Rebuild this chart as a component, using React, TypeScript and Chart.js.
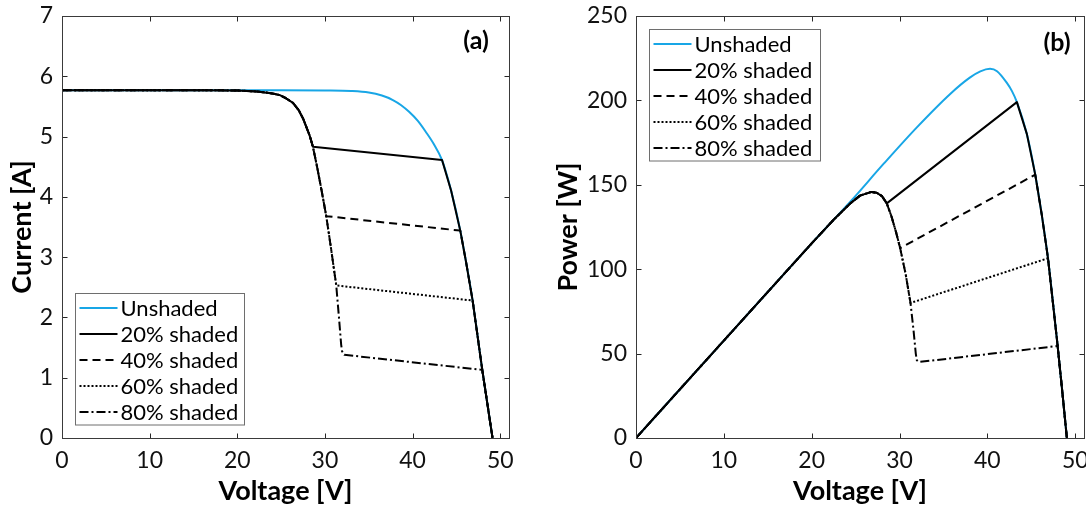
import React, { useEffect, useRef } from 'react';
import { Chart, registerables } from 'chart.js';

Chart.register(...registerables);

const FONT = 'Lato, "Open Sans", "DejaVu Sans", sans-serif';

// ---------------- tick values ----------------
const V_TICKS = [0, 10, 20, 30, 40, 50];
const I_TICKS = [0, 1, 2, 3, 4, 5, 6, 7];
const P_TICKS = [0, 50, 100, 150, 200, 250];
const SERIES_LABELS = ['Unshaded', '20% shaded', '40% shaded', '60% shaded', '80% shaded'];

// ---------------- (a) I-V curves ----------------
const IV_UNSHADED_V = [0, 5, 10, 15, 20, 25, 30, 33, 35, 36.5, 37.7, 38.7, 39.6, 40.6, 41.5, 42.4, 43.36, 44.4, 45.44, 46.1, 46.85, 47.95, 48.5, 49.12];
const IV_UNSHADED_I = [5.77, 5.77, 5.77, 5.77, 5.77, 5.77, 5.765, 5.755, 5.73, 5.68, 5.61, 5.52, 5.41, 5.26, 5.08, 4.88, 4.61, 4.1, 3.44, 2.92, 2.28, 1.13, 0.6, 0];

const IV_S20_V = [0, 5, 10, 15, 20, 22.5, 24, 24.8, 25.5, 26.35, 27, 27.5, 28.25, 28.63, 43.36, 44.4, 45.44, 46.1, 46.85, 47.95, 48.5, 49.12];
const IV_S20_I = [5.77, 5.77, 5.77, 5.77, 5.765, 5.745, 5.715, 5.69, 5.64, 5.56, 5.44, 5.3, 5.02, 4.83, 4.61, 4.1, 3.44, 2.92, 2.28, 1.13, 0.6, 0];

const IV_S40_V = [0, 5, 10, 15, 20, 22.5, 24, 24.8, 25.5, 26.35, 27, 27.5, 28.25, 28.63, 29.1, 29.6, 30.15, 45.44, 46.1, 46.85, 47.95, 48.5, 49.12];
const IV_S40_I = [5.77, 5.77, 5.77, 5.77, 5.765, 5.745, 5.715, 5.69, 5.64, 5.56, 5.44, 5.3, 5.02, 4.83, 4.5, 4.12, 3.68, 3.44, 2.92, 2.28, 1.13, 0.6, 0];

const IV_S60_V = [0, 5, 10, 15, 20, 22.5, 24, 24.8, 25.5, 26.35, 27, 27.5, 28.25, 28.63, 29.1, 29.6, 30.15, 30.7, 31.29, 46.85, 47.95, 48.5, 49.12];
const IV_S60_I = [5.77, 5.77, 5.77, 5.77, 5.765, 5.745, 5.715, 5.69, 5.64, 5.56, 5.44, 5.3, 5.02, 4.83, 4.5, 4.12, 3.68, 3.14, 2.53, 2.28, 1.13, 0.6, 0];

const IV_S80_V = [0, 5, 10, 15, 20, 22.5, 24, 24.8, 25.5, 26.35, 27, 27.5, 28.25, 28.63, 29.1, 29.6, 30.15, 30.7, 31.29, 31.6, 31.85, 31.95, 32.2, 47.95, 48.5, 49.12];
const IV_S80_I = [5.77, 5.77, 5.77, 5.77, 5.765, 5.745, 5.715, 5.69, 5.64, 5.56, 5.44, 5.3, 5.02, 4.83, 4.5, 4.12, 3.68, 3.14, 2.53, 2.0, 1.55, 1.44, 1.38, 1.13, 0.6, 0];

// ---------------- (b) P-V curves ----------------
const PV_UNSHADED_V = [0, 10, 20, 24.4, 28.2, 32, 35.8, 38, 39.2, 40.3, 41.1, 42.2, 42.8, 43.36, 44.5, 45.45, 46.2, 46.9, 48, 48.5, 49.05];
const PV_UNSHADED_P = [0, 57.7, 115.3, 140, 162.5, 184.2, 204, 213.5, 217.2, 218.7, 217.3, 210.5, 205.5, 199, 180, 156, 132, 106.5, 54.5, 29, 0];

const PV_S20_V = [0, 10, 20, 22.5, 24.4, 25.5, 26.8, 27.4, 28, 28.55, 43.36, 44.5, 45.45, 46.2, 46.9, 48, 48.5, 49.05];
const PV_S20_P = [0, 57.7, 115.3, 129.3, 139, 143.6, 145.8, 145.3, 143.3, 139, 199, 180, 156, 132, 106.5, 54.5, 29, 0];

const PV_S40_V = [0, 10, 20, 22.5, 24.4, 25.5, 26.8, 27.4, 28, 28.55, 29.1, 29.6, 30.07, 45.45, 46.2, 46.9, 48, 48.5, 49.05];
const PV_S40_P = [0, 57.7, 115.3, 129.3, 139, 143.6, 145.8, 145.3, 143.3, 139, 131, 122, 112.5, 156, 132, 106.5, 54.5, 29, 0];

const PV_S60_V = [0, 10, 20, 22.5, 24.4, 25.5, 26.8, 27.4, 28, 28.55, 29.1, 29.6, 30.07, 30.7, 31.25, 46.9, 48, 48.5, 49.05];
const PV_S60_P = [0, 57.7, 115.3, 129.3, 139, 143.6, 145.8, 145.3, 143.3, 139, 131, 122, 112.5, 97, 80, 106.5, 54.5, 29, 0];

const PV_S80_V = [0, 10, 20, 22.5, 24.4, 25.5, 26.8, 27.4, 28, 28.55, 29.1, 29.6, 30.07, 30.7, 31.25, 31.6, 31.85, 31.97, 32.2, 48, 48.5, 49.05];
const PV_S80_P = [0, 57.7, 115.3, 129.3, 139, 143.6, 145.8, 145.3, 143.3, 139, 131, 122, 112.5, 97, 80, 63.5, 50, 46, 45, 54.5, 29, 0];

// ---------------- styles ----------------
const STYLES = [
  { color: '#18A6E6', width: 2, dash: [] as number[], order: 5, smooth: true },
  { color: '#000000', width: 2, dash: [] as number[], order: 1, smooth: false },
  { color: '#000000', width: 2, dash: [8, 5], order: 2, smooth: false },
  { color: '#000000', width: 2, dash: [2, 2], order: 3, smooth: false },
  { color: '#000000', width: 2, dash: [9, 3, 2, 3], order: 4, smooth: false },
];

const pts = (xs: number[], ys: number[]) => xs.map((x, i) => ({ x, y: ys[i] }));

const framePlugin = {
  id: 'frameTicks',
  afterDatasetsDraw(chart: any) {
    const { ctx, chartArea: a } = chart;
    const xs = chart.scales.x;
    const ys = chart.scales.y;
    const len = 5;
    ctx.save();
    ctx.strokeStyle = '#262626';
    ctx.lineWidth = 1;
    ctx.setLineDash([]);
    const L = Math.round(a.left) + 0.5;
    const R = Math.round(a.right) + 0.5;
    const T = Math.round(a.top) + 0.5;
    const B = Math.round(a.bottom) + 0.5;
    ctx.beginPath();
    xs.ticks.forEach((t: any) => {
      const p = Math.round(xs.getPixelForValue(t.value)) + 0.5;
      ctx.moveTo(p, B); ctx.lineTo(p, B - len);
      ctx.moveTo(p, T); ctx.lineTo(p, T + len);
    });
    ys.ticks.forEach((t: any) => {
      const p = Math.round(ys.getPixelForValue(t.value)) + 0.5;
      ctx.moveTo(L, p); ctx.lineTo(L + len, p);
      ctx.moveTo(R, p); ctx.lineTo(R - len, p);
    });
    ctx.stroke();
    ctx.strokeStyle = '#3a3a3a';
    ctx.strokeRect(L, T, R - L, B - T);
    ctx.restore();
  },
};

const legendPlugin = {
  id: 'boxLegend',
  afterDatasetsDraw(chart: any, _args: any, opts: any) {
    const { ctx, chartArea: a } = chart;
    const x0 = Math.round(a.left + opts.dx) + 0.5;
    const y0 = Math.round(a.top + opts.dy) + 0.5;
    const w = opts.width;
    const rowH = 26;
    const n = chart.data.datasets.length;
    const h = 14.5 + (n - 1) * rowH + 13;
    ctx.save();
    ctx.fillStyle = '#ffffff';
    ctx.fillRect(x0, y0, w, h);
    ctx.strokeStyle = '#6e6e6e';
    ctx.lineWidth = 1;
    ctx.setLineDash([]);
    ctx.strokeRect(x0, y0, w, h);
    chart.data.datasets.forEach((ds: any, i: number) => {
      const cy = Math.round(y0 + 14.5 + i * rowH);
      ctx.save();
      ctx.strokeStyle = ds.borderColor;
      ctx.lineWidth = ds.borderWidth;
      ctx.setLineDash(ds.borderDash || []);
      ctx.beginPath();
      ctx.moveTo(x0 + 4, cy);
      ctx.lineTo(x0 + 42, cy);
      ctx.stroke();
      ctx.restore();
      ctx.fillStyle = '#000';
      ctx.font = `22px ${FONT}`;
      ctx.textBaseline = 'middle';
      ctx.textAlign = 'left';
      ctx.fillText(ds.label, x0 + 45, cy + 1);
    });
    ctx.restore();
  },
};

const labelPlugin = {
  id: 'panelLabel',
  afterDatasetsDraw(chart: any, _args: any, opts: any) {
    const { ctx, chartArea: a } = chart;
    ctx.save();
    ctx.fillStyle = '#000';
    ctx.font = `bold 25px ${FONT}`;
    ctx.textAlign = 'center';
    ctx.textBaseline = 'middle';
    ctx.fillText(opts.text, a.right - opts.dx, a.top + opts.dy);
    ctx.restore();
  },
};

function makeConfig(p: {
  series: { x: number[]; y: number[] }[];
  yMax: number;
  yTicks: number[];
  yTitle: string;
  yWidth: number;
  yTitlePad: number;
  padRight: number;
  label: string;
  labelDx: number;
  labelDy: number;
  legendDy: number;
  legendW: number;
}): any {
  return {
    type: 'line',
    data: {
      datasets: p.series.map((s, i) => ({
        label: SERIES_LABELS[i],
        data: pts(s.x, s.y),
        borderColor: STYLES[i].color,
        borderWidth: STYLES[i].width,
        borderDash: STYLES[i].dash,
        order: STYLES[i].order,
        pointRadius: 0,
        tension: 0,
        cubicInterpolationMode: STYLES[i].smooth ? 'monotone' : 'default',
        fill: false,
        borderCapStyle: 'butt',
        borderJoinStyle: 'round',
      })),
    },
    options: {
      responsive: false,
      maintainAspectRatio: false,
      animation: false,
      events: [],
      layout: { padding: { left: 0, right: p.padRight, top: 16, bottom: 0 } },
      plugins: {
        legend: { display: false },
        tooltip: { enabled: false },
        boxLegend: { dx: 13, dy: p.legendDy, width: p.legendW },
        panelLabel: { text: p.label, dx: p.labelDx, dy: p.labelDy },
      },
      scales: {
        x: {
          type: 'linear',
          min: 0,
          max: 51,
          afterBuildTicks: (s: any) => { s.ticks = V_TICKS.map((v) => ({ value: v })); },
          afterFit: (s: any) => { s.height = 72; s.paddingLeft = 0; s.paddingRight = 0; },
          grid: { display: false, drawTicks: false },
          border: { display: false },
          ticks: { font: { family: FONT, size: 23 }, color: '#111', padding: 9, maxRotation: 0, autoSkip: false },
          title: { display: true, text: 'Voltage [V]', font: { family: FONT, size: 27, weight: 'bold' }, color: '#000', padding: { top: 0, bottom: 3 } },
        },
        y: {
          type: 'linear',
          min: 0,
          max: p.yMax,
          afterBuildTicks: (s: any) => { s.ticks = p.yTicks.map((v) => ({ value: v })); },
          afterFit: (s: any) => { s.width = p.yWidth; s.paddingTop = 0; s.paddingBottom = 0; },
          grid: { display: false, drawTicks: false },
          border: { display: false },
          ticks: { font: { family: FONT, size: 23 }, color: '#111', padding: 9, autoSkip: false },
          title: { display: true, text: p.yTitle, font: { family: FONT, size: 27, weight: 'bold' }, color: '#000', padding: { top: p.yTitlePad, bottom: 0 } },
        },
      },
    },
    plugins: [framePlugin, legendPlugin, labelPlugin],
  };
}

export default function App() {
  const refA = useRef<HTMLCanvasElement>(null);
  const refB = useRef<HTMLCanvasElement>(null);

  useEffect(() => {
    const chartA = new Chart(refA.current as HTMLCanvasElement, makeConfig({
      series: [
        { x: IV_UNSHADED_V, y: IV_UNSHADED_I },
        { x: IV_S20_V, y: IV_S20_I },
        { x: IV_S40_V, y: IV_S40_I },
        { x: IV_S60_V, y: IV_S60_I },
        { x: IV_S80_V, y: IV_S80_I },
      ],
      yMax: 7,
      yTicks: I_TICKS,
      yTitle: 'Current [A]',
      yWidth: 62,
      yTitlePad: 6,
      padRight: 31,
      label: '(a)',
      labelDx: 33,
      labelDy: 25,
      legendDy: 277,
      legendW: 169,
    }));
    const chartB = new Chart(refB.current as HTMLCanvasElement, makeConfig({
      series: [
        { x: PV_UNSHADED_V, y: PV_UNSHADED_P },
        { x: PV_S20_V, y: PV_S20_P },
        { x: PV_S40_V, y: PV_S40_P },
        { x: PV_S60_V, y: PV_S60_P },
        { x: PV_S80_V, y: PV_S80_P },
      ],
      yMax: 250,
      yTicks: P_TICKS,
      yTitle: 'Power [W]',
      yWidth: 96,
      yTitlePad: 12,
      padRight: 36,
      label: '(b)',
      labelDx: 27,
      labelDy: 27,
      legendDy: 13,
      legendW: 171,
    }));
    return () => {
      chartA.destroy();
      chartB.destroy();
    };
  }, []);

  return (
    <div style={{ position: 'absolute', left: 0, top: 0, width: 1086, height: 510, overflow: 'hidden', background: '#fff' }}>
      <canvas ref={refA} width={540} height={510} style={{ position: 'absolute', left: 0, top: 0, width: 540, height: 510 }} />
      <canvas ref={refB} width={580} height={510} style={{ position: 'absolute', left: 540, top: 0, width: 580, height: 510 }} />
    </div>
  );
}
